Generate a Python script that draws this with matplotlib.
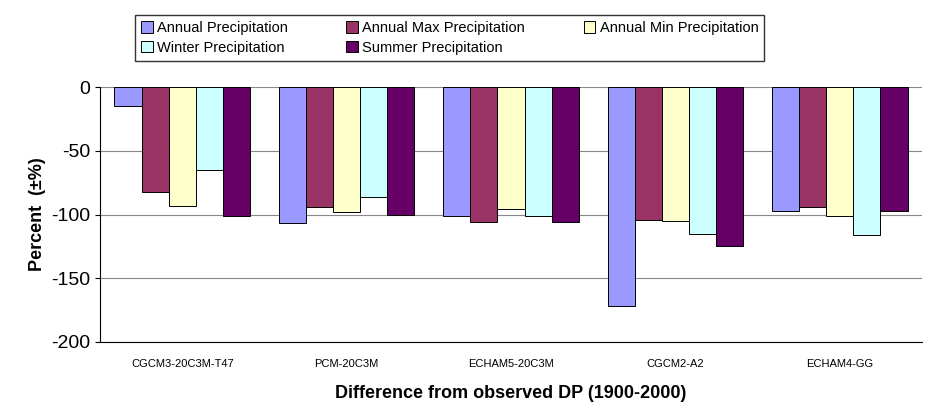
import matplotlib.pyplot as plt
import numpy as np

plt.rcParams["axes.unicode_minus"] = False
plt.rcParams["font.family"] = "Liberation Sans"

models = ["CGCM3-20C3M-T47", "PCM-20C3M", "ECHAM5-20C3M", "CGCM2-A2", "ECHAM4-GG"]
series = ["Annual Precipitation", "Annual Max Precipitation", "Annual Min Precipitation",
          "Winter Precipitation", "Summer Precipitation"]
annual = [-15, -107, -101, -172, -97]
annual_max = [-82, -94, -106, -104, -94]
annual_min = [-93, -98, -96, -105, -101]
winter = [-65, -86, -101, -115, -116]
summer = [-101, -100, -106, -125, -97]
colors = ["#9999FF", "#993366", "#FFFFCC", "#CCFFFF", "#660066"]

values = [annual, annual_max, annual_min, winter, summer]

fig = plt.figure(figsize=(9.31, 4.07), dpi=100)
ax = fig.add_axes([100 / 931, 1 - 342 / 407, 822 / 931, 255 / 407])

x = np.arange(len(models))
w = 0.165
for i, (name, vals) in enumerate(zip(series, values)):
    ax.bar(x + (i - 2) * w, vals, w, color=colors[i], edgecolor="black",
           linewidth=0.7, label=name, zorder=3)

ax.set_xlim(-0.5, 4.5)
ax.set_ylim(-200, 0)
ax.set_yticks([0, -50, -100, -150, -200])
ax.tick_params(axis="y", labelsize=14)
ax.set_xticks(x)
ax.set_xticklabels(models, fontsize=8)
ax.tick_params(axis="x", length=0, pad=12)
ax.yaxis.grid(True, color="#888888", linewidth=0.8, zorder=0)
for s in ["top", "right"]:
    ax.spines[s].set_visible(False)
ax.set_ylabel("Percent  (±%)", fontsize=13, fontweight="bold")
ax.set_xlabel("Difference from observed DP (1900-2000)", fontsize=13,
              fontweight="bold", labelpad=12)

h, l = ax.get_legend_handles_labels()
order = [0, 3, 1, 4, 2]
fig.legend([h[i] for i in order], [l[i] for i in order], ncol=3,
           loc="upper left", bbox_to_anchor=(128 / 931, 1 - 8 / 407),
           frameon=True, fancybox=False, edgecolor="black",
           prop={"size": 10.5},
           handlelength=0.8, handleheight=0.8, handletextpad=0.3,
           columnspacing=4.0, borderpad=0.4, labelspacing=0.4)

fig.savefig("out.png", dpi=100)
